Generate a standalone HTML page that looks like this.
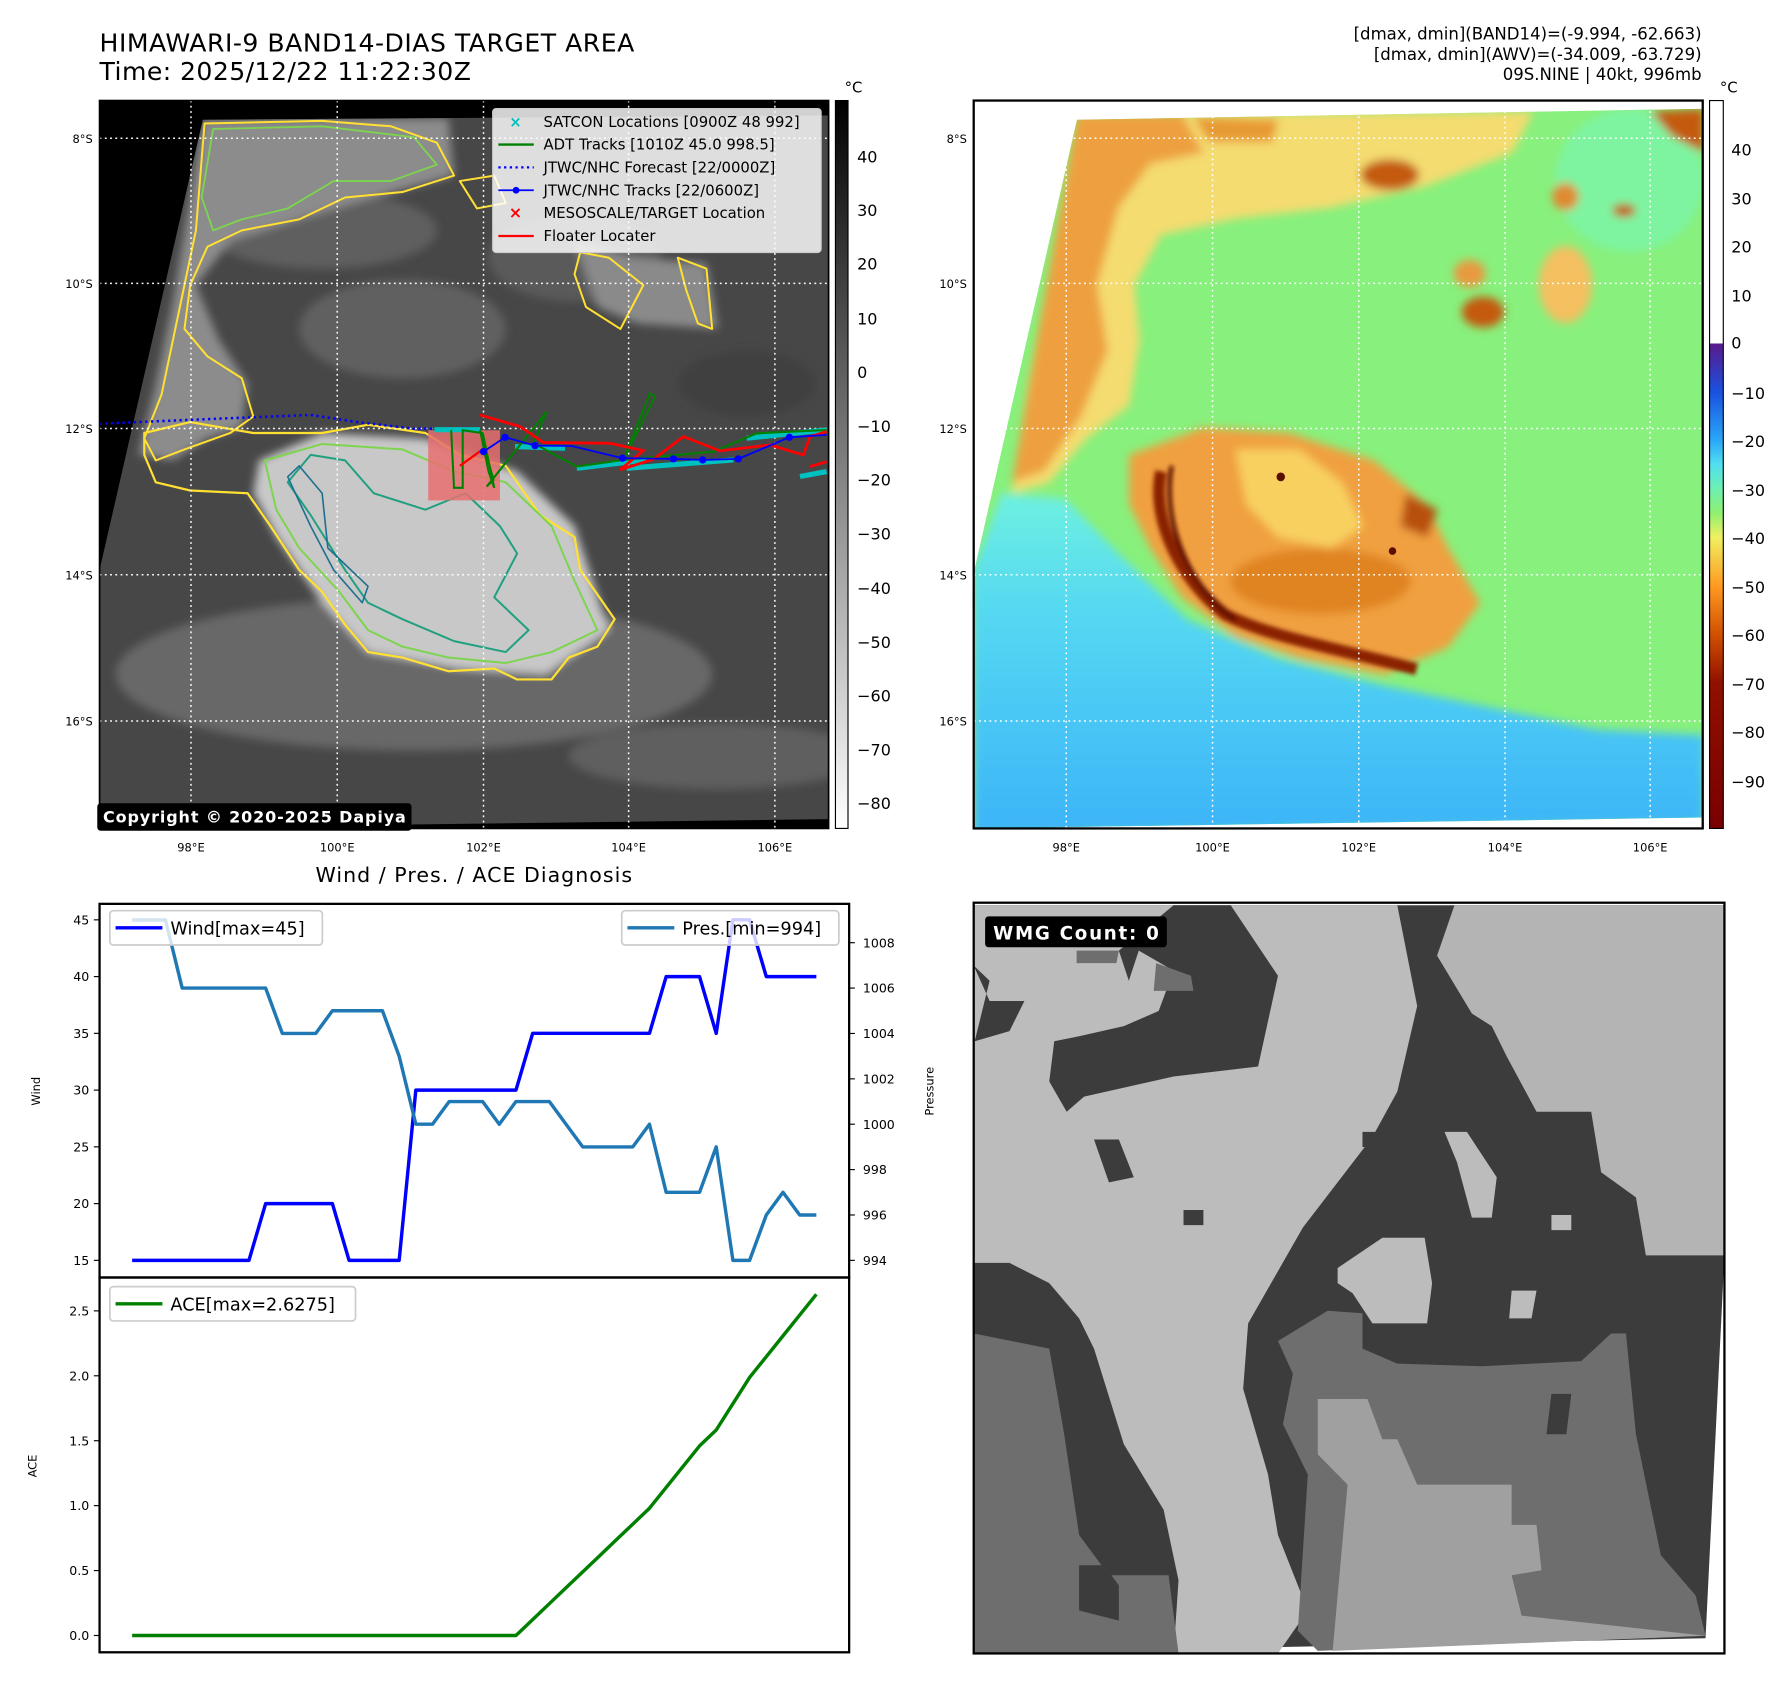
<!DOCTYPE html>
<html><head><meta charset="utf-8"><style>
html,body{margin:0;padding:0;background:#fff;}
svg{display:block;font-family:"DejaVu Sans","Liberation Sans",sans-serif;}
</style></head><body>
<svg id="root" width="1792" height="1690" viewBox="0 0 1568 1479" xmlns="http://www.w3.org/2000/svg">
<defs>
<filter id="blur6" x="-20%" y="-20%" width="140%" height="140%"><feGaussianBlur stdDeviation="8"/></filter>
<filter id="blur3" x="-20%" y="-20%" width="140%" height="140%"><feGaussianBlur stdDeviation="4"/></filter>
<linearGradient id="cbGray" x1="0" y1="0" x2="0" y2="1"><stop offset="0" stop-color="#000"/><stop offset="1" stop-color="#fff"/></linearGradient>
<linearGradient id="cbColor" x1="0" y1="0" x2="0" y2="1">
<stop offset="0" stop-color="#fff"/><stop offset="0.3336" stop-color="#fff"/>
<stop offset="0.3337" stop-color="#5a1a8a"/><stop offset="0.40" stop-color="#1a50e0"/>
<stop offset="0.467" stop-color="#2aa8f8"/><stop offset="0.50" stop-color="#50e0f0"/>
<stop offset="0.534" stop-color="#6ef0b0"/><stop offset="0.567" stop-color="#90f070"/>
<stop offset="0.60" stop-color="#f0f060"/><stop offset="0.667" stop-color="#ff9a20"/>
<stop offset="0.734" stop-color="#d05000"/><stop offset="0.80" stop-color="#901000"/>
<stop offset="1" stop-color="#780000"/></linearGradient>
<linearGradient id="seaGrad" x1="0" y1="0" x2="0" y2="1"><stop offset="0" stop-color="#6ef0e0"/><stop offset="0.35" stop-color="#55d8f2"/><stop offset="1" stop-color="#3cb4f8"/></linearGradient>
<clipPath id="clipL"><rect x="87" y="88" width="638" height="637"/></clipPath>
<clipPath id="clipR"><rect x="852" y="88" width="638" height="637"/></clipPath>
<clipPath id="clipB"><rect x="852" y="790" width="657" height="657"/></clipPath>
<clipPath id="swathL"><polygon points="352,218 1443,210 1443,1495 172,1512 172,1040"/></clipPath>
<clipPath id="swathR"><polygon points="222,220 1398,200 1398,1490 28,1510 28,1045"/></clipPath>
</defs>

<text x="87" y="45" font-size="22" textLength="468" fill="#000">HIMAWARI-9 BAND14-DIAS TARGET AREA</text>
<text x="87" y="70" font-size="22" textLength="325" fill="#000">Time: 2025/12/22 11:22:30Z</text>
<text x="1489" y="34.5" font-size="14.5" text-anchor="end" fill="#000">[dmax, dmin](BAND14)=(-9.994, -62.663)</text>
<text x="1489" y="52.5" font-size="14.5" text-anchor="end" fill="#000">[dmax, dmin](AWV)=(-34.009, -63.729)</text>
<text x="1489" y="70" font-size="14.5" text-anchor="end" fill="#000">09S.NINE | 40kt, 996mb</text>

<!-- ============ LEFT MAP ============ -->
<g clip-path="url(#clipL)">
<rect x="87" y="88" width="638" height="637" fill="#000"/>
<g transform="translate(87,88) scale(0.502,0.4793) translate(-172,-183)">
<g clip-path="url(#swathL)">
<rect x="100" y="150" width="1400" height="1400" fill="#474747"/>
<g filter="url(#blur6)">
<ellipse cx="720" cy="1230" rx="520" ry="140" fill="#686868"/>
<ellipse cx="1250" cy="1380" rx="260" ry="60" fill="#5e5e5e"/>
<ellipse cx="700" cy="600" rx="180" ry="90" fill="#606060"/>
<ellipse cx="560" cy="420" rx="200" ry="70" fill="#5e5e5e"/>
<ellipse cx="1000" cy="470" rx="150" ry="80" fill="#5a5a5a"/>
<ellipse cx="1300" cy="700" rx="120" ry="60" fill="#404040"/>
<path d="M352,218 L780,215 L790,320 L650,360 L520,400 L400,440 L340,520 L380,620 L430,700 L420,780 L360,800 L300,840 L240,830 L270,700 L300,550 Z" fill="#8c8c8c"/>
<path d="M450,840 L560,790 L740,800 L900,860 L1000,960 L1060,1150 L950,1230 L800,1220 L640,1190 L560,1100 L480,980 L440,900 Z" fill="#c8c8c8"/>
<path d="M1000,440 L1100,470 L1230,480 L1250,600 L1110,590 L1040,560 Z" fill="#8a8a8a"/>
</g>
<g fill="none" stroke-linejoin="round">
<path vector-effect="non-scaling-stroke" stroke="#ffe033" stroke-width="2.2" d="M250,790 L330,770 L440,790 L560,790 L640,775 L740,790 L800,830 L880,850 L940,940 L1000,980 L1010,1040 L1070,1130 L1040,1180 L990,1200 L960,1240 L900,1240 L860,1220 L780,1225 L700,1200 L640,1190 L600,1140 L560,1080 L520,1040 L470,960 L430,900 L330,895 L270,880 L250,830 Z"/>
<path vector-effect="non-scaling-stroke" stroke="#7dd44f" stroke-width="2" d="M460,840 L560,810 L700,820 L790,860 L880,880 L960,960 L1000,1060 L1040,1150 L960,1190 L880,1210 L780,1200 L700,1180 L640,1150 L590,1080 L520,1000 L480,930 Z"/>
<path vector-effect="non-scaling-stroke" stroke="#20a080" stroke-width="2" d="M540,830 L600,840 L650,900 L740,930 L810,900 L870,960 L900,1010 L860,1090 L920,1150 L880,1190 L790,1170 L700,1130 L640,1100 L600,1040 L540,940 L500,880 Z"/>
<path vector-effect="non-scaling-stroke" stroke="#1f6f8f" stroke-width="1.6" d="M500,870 L520,850 L560,900 L570,1000 L640,1070 L630,1100 L580,1040 L540,960 Z"/>
<path vector-effect="non-scaling-stroke" stroke="#ffe033" stroke-width="2" d="M355,225 L560,220 L680,230 L760,260 L790,320 L700,350 L600,360 L520,400 L420,420 L360,450 L330,520 L320,600 L360,650 L420,690 L440,760 L400,790 L320,820 L270,840 L250,800 L280,720 L300,620 L320,520 L340,420 Z"/>
<path vector-effect="non-scaling-stroke" stroke="#7dd44f" stroke-width="1.8" d="M370,235 L560,230 L720,250 L760,300 L680,330 L580,330 L500,380 L420,400 L370,420 L350,360 Z"/>
<path vector-effect="non-scaling-stroke" stroke="#ffe033" stroke-width="2" d="M1010,460 L1060,470 L1120,520 L1080,600 L1020,560 L1000,500 Z"/>
<path vector-effect="non-scaling-stroke" stroke="#ffe033" stroke-width="2" d="M1180,470 L1230,490 L1240,600 L1215,590 L1195,530 Z"/>
<path vector-effect="non-scaling-stroke" stroke="#ffe033" stroke-width="2" d="M800,330 L860,320 L880,370 L830,380 Z"/>
</g>
</g>
</g>
<g stroke="#fff" stroke-width="1.3" stroke-dasharray="1.6 3">
<line x1="87" x2="725" y1="121" y2="121"/><line x1="87" x2="725" y1="248" y2="248"/><line x1="87" x2="725" y1="375" y2="375"/><line x1="87" x2="725" y1="503" y2="503"/><line x1="87" x2="725" y1="631" y2="631"/>
<line x1="167" x2="167" y1="88" y2="725"/><line x1="295" x2="295" y1="88" y2="725"/><line x1="423" x2="423" y1="88" y2="725"/><line x1="550" x2="550" y1="88" y2="725"/><line x1="678" x2="678" y1="88" y2="725"/>
</g>
<rect x="374.6" y="376.5" width="62.8" height="61.4" fill="#e87070" opacity="0.85"/>
<polyline points="87,370.8 176.4,367 271.7,363.1 311.9,369.3 362.1,375.1 392.2,375.1" fill="none" stroke="#0000ff" stroke-width="2.2" stroke-dasharray="2 3"/>
<g stroke="#00c0c0" stroke-width="4.5" fill="none">
<line x1="450.6" y1="390.8" x2="494.4" y2="392.3"/><line x1="504.6" y1="409.8" x2="565.8" y2="402.5"/><line x1="548.3" y1="409.8" x2="641.7" y2="402.5"/><line x1="653.3" y1="383.5" x2="723.3" y2="376.3"/><line x1="700" y1="417" x2="723.3" y2="412.7"/><line x1="380" y1="376" x2="420" y2="376"/>
</g>
<polyline points="394.7,376.5 397.2,426.9 404.8,426.9 404.8,376.5 422.3,379 432.4,427 427.4,412.6 420,376.3 431.7,420 425.8,425.8 478.3,360.2 466.7,387.9 504.6,408.3 545.4,402.5 568.7,344.2 573.1,347.1 545.4,402.5 624.2,395.2 662.1,379.2 723.3,376.3" fill="none" stroke="#008000" stroke-width="1.8"/>
<polyline points="419.8,363.1 455,373.3 475.4,387.3 533.7,387.9 562.9,394.3 542.5,411.2 571.7,401.9 597.9,382.1 630,394.6 673.7,389.4 702.9,398.1 708.7,382.1 723.3,377.7" fill="none" stroke="#ff0000" stroke-width="2.4"/>
<line x1="402.3" y1="407.7" x2="422.3" y2="393.3" stroke="#ff0000" stroke-width="2"/>
<line x1="708.7" y1="408.3" x2="723.3" y2="404" stroke="#ff0000" stroke-width="2.4"/>
<polyline points="423,395.2 441.9,382.7 468.1,390 500.2,390.3 544.8,401 589.2,401.6 614.8,402.5 646,401.6 690.7,382.7 723.3,380.6" fill="none" stroke="#0000ff" stroke-width="1.6"/>
<g fill="#0000ff">
<circle cx="423" cy="395.2" r="3.2"/><circle cx="441.9" cy="382.7" r="3.2"/><circle cx="468.1" cy="390" r="3.2"/><circle cx="544.8" cy="401" r="3.2"/><circle cx="589.2" cy="401.6" r="3.2"/><circle cx="614.8" cy="402.5" r="3.2"/><circle cx="646" cy="401.6" r="3.2"/><circle cx="690.7" cy="382.7" r="3.2"/>
</g>
</g>
<g font-size="13">
<rect x="431" y="95" width="287.5" height="126" rx="3" fill="#fff" fill-opacity="0.82" stroke="#ccc"/>
<text x="451" y="111" font-size="13" fill="#00bfbf" text-anchor="middle" font-weight="bold">×</text>
<text x="475.5" y="111" fill="#000">SATCON Locations [0900Z 48 992]</text>
<line x1="436" x2="467" y1="126.5" y2="126.5" stroke="#008000" stroke-width="2"/>
<text x="475.5" y="131" fill="#000">ADT Tracks [1010Z 45.0 998.5]</text>
<line x1="436" x2="467" y1="146.5" y2="146.5" stroke="#0000ff" stroke-width="2" stroke-dasharray="2 3"/>
<text x="475.5" y="151" fill="#000">JTWC/NHC Forecast [22/0000Z]</text>
<line x1="436" x2="467" y1="166.5" y2="166.5" stroke="#0000ff" stroke-width="1.6"/><circle cx="451.5" cy="166.5" r="3" fill="#0000ff"/>
<text x="475.5" y="171" fill="#000">JTWC/NHC Tracks [22/0600Z]</text>
<text x="451" y="191" font-size="14" fill="#ff0000" text-anchor="middle" font-weight="bold">×</text>
<text x="475.5" y="191" fill="#000">MESOSCALE/TARGET Location</text>
<line x1="436" x2="467" y1="206.5" y2="206.5" stroke="#ff0000" stroke-width="2"/>
<text x="475.5" y="211" fill="#000">Floater Locater</text>
</g>
<rect x="87" y="88" width="638" height="637" fill="none" stroke="#000" stroke-width="1.5"/>
<rect x="85" y="703" width="275" height="24" rx="3" fill="#000"/>
<text x="90" y="720" font-size="14" font-weight="bold" fill="#fff" textLength="265">Copyright © 2020-2025 Dapiya</text>
<g font-size="10" text-anchor="end" fill="#000">
<text x="81" y="125">8°S</text><text x="81" y="252">10°S</text><text x="81" y="379">12°S</text><text x="81" y="507">14°S</text><text x="81" y="635">16°S</text>
</g>
<g font-size="10" text-anchor="middle" fill="#000">
<text x="167" y="745">98°E</text><text x="295" y="745">100°E</text><text x="423" y="745">102°E</text><text x="550" y="745">104°E</text><text x="678" y="745">106°E</text>
</g>
<g>
<rect x="731" y="88" width="11" height="637" fill="url(#cbGray)" stroke="#000" stroke-width="1"/>
<text x="739" y="81" font-size="13" fill="#000">°C</text>
<g font-size="14" fill="#000">
<text x="750" y="142">40</text><text x="750" y="189">30</text><text x="750" y="236">20</text><text x="750" y="284">10</text><text x="750" y="331">0</text><text x="750" y="378">−10</text><text x="750" y="425">−20</text><text x="750" y="472">−30</text><text x="750" y="520">−40</text><text x="750" y="567">−50</text><text x="750" y="614">−60</text><text x="750" y="661">−70</text><text x="750" y="708">−80</text>
</g></g>

<!-- ============ RIGHT MAP ============ -->
<g clip-path="url(#clipR)">
<rect x="852" y="88" width="638" height="637" fill="#fff"/>
<g transform="translate(852,88) scale(0.4657,0.4808) translate(-28,-185)">
<g clip-path="url(#swathR)">
<rect x="0" y="150" width="1450" height="1400" fill="#88f07c"/>
<g filter="url(#blur6)">
<ellipse cx="1260" cy="330" rx="140" ry="130" fill="#7ef4a0"/>
<path d="M222,210 L1080,205 L1040,280 L880,340 L700,380 L520,400 L380,430 L330,520 L340,620 L320,740 L240,800 L170,880 L100,900 L130,700 L180,450 Z" fill="#f4dc70"/>
<path d="M222,210 L420,210 L460,280 L360,300 L300,380 L260,520 L280,640 L230,760 L160,860 L100,880 L150,600 Z" fill="#eea040"/>
<path d="M440,215 L600,220 L590,260 L470,260 Z" fill="#e89a30"/>
<ellipse cx="810" cy="320" rx="55" ry="28" fill="#c45a10"/>
<ellipse cx="985" cy="570" rx="40" ry="28" fill="#c45a10"/>
<ellipse cx="960" cy="500" rx="30" ry="25" fill="#e89a40"/>
<ellipse cx="1140" cy="520" rx="50" ry="70" fill="#f4c060"/>
<ellipse cx="1140" cy="360" rx="25" ry="25" fill="#e08a30"/>
<ellipse cx="1250" cy="385" rx="22" ry="12" fill="#c45a10"/>
<path d="M1300,205 L1400,200 L1400,280 L1340,250 Z" fill="#c45a10"/>
<path d="M28,1040 L80,900 L200,910 L300,1010 L430,1130 L600,1200 L800,1250 L1000,1290 L1200,1330 L1400,1340 L1400,1500 L28,1520 Z" fill="url(#seaGrad)"/>
<path d="M320,830 L460,780 L620,790 L780,840 L880,920 L920,1000 L980,1100 L920,1180 L800,1230 L640,1200 L520,1160 L420,1090 L360,1000 L320,920 Z" fill="#f0a040"/>
<path d="M520,820 L640,820 L720,880 L760,960 L700,1000 L600,980 L540,920 Z" fill="#f8d060"/>
<ellipse cx="680" cy="1060" rx="170" ry="60" fill="#e08420"/>
<path d="M840,900 L900,930 L880,980 L830,960 Z" fill="#b85010"/>
</g>
<g filter="url(#blur3)" fill="none">
<path d="M380,860 C360,950 420,1060 500,1120 C580,1160 700,1180 860,1220" stroke="#8a2200" stroke-width="22"/>
<path d="M400,850 C380,960 440,1080 520,1130" stroke="#5a0e00" stroke-width="8"/>
</g>
<circle cx="605" cy="870" r="8" fill="#5a0e00"/>
<circle cx="815" cy="1005" r="7" fill="#5a0e00"/>
</g>
</g>
<g stroke="#fff" stroke-width="1.3" stroke-dasharray="1.6 3">
<line x1="852" x2="1490" y1="121" y2="121"/><line x1="852" x2="1490" y1="248" y2="248"/><line x1="852" x2="1490" y1="375" y2="375"/><line x1="852" x2="1490" y1="503" y2="503"/><line x1="852" x2="1490" y1="631" y2="631"/>
<line x1="933" x2="933" y1="88" y2="725"/><line x1="1061" x2="1061" y1="88" y2="725"/><line x1="1189" x2="1189" y1="88" y2="725"/><line x1="1317" x2="1317" y1="88" y2="725"/><line x1="1444" x2="1444" y1="88" y2="725"/>
</g>
</g>
<rect x="852" y="88" width="638" height="637" fill="none" stroke="#000" stroke-width="2"/>
<g font-size="10" text-anchor="end" fill="#000">
<text x="846" y="125">8°S</text><text x="846" y="252">10°S</text><text x="846" y="379">12°S</text><text x="846" y="507">14°S</text><text x="846" y="635">16°S</text>
</g>
<g font-size="10" text-anchor="middle" fill="#000">
<text x="933" y="745">98°E</text><text x="1061" y="745">100°E</text><text x="1189" y="745">102°E</text><text x="1317" y="745">104°E</text><text x="1444" y="745">106°E</text>
</g>
<g>
<rect x="1496" y="88" width="12" height="637" fill="url(#cbColor)" stroke="#000" stroke-width="1"/>
<text x="1505" y="81" font-size="13" fill="#000">°C</text>
<g font-size="14" fill="#000">
<text x="1515" y="136">40</text><text x="1515" y="179">30</text><text x="1515" y="221">20</text><text x="1515" y="264">10</text><text x="1515" y="305">0</text><text x="1515" y="349">−10</text><text x="1515" y="391">−20</text><text x="1515" y="434">−30</text><text x="1515" y="476">−40</text><text x="1515" y="519">−50</text><text x="1515" y="561">−60</text><text x="1515" y="604">−70</text><text x="1515" y="646">−80</text><text x="1515" y="689">−90</text>
</g></g>

<!-- ============ BOTTOM RIGHT (WMG) ============ -->
<g clip-path="url(#clipB)">
<rect x="852" y="790" width="657" height="657" fill="#fff"/>
<g transform="translate(852,790) scale(0.4351,0.4409) translate(-28,-45)">
<polygon points="28,50 1538,50 1538,745 1500,1505 28,1535" fill="#3c3c3c"/>
<polygon points="28,50 880,50 920,250 880,420 830,510 690,690 580,880 570,1010 620,1180 640,1300 700,1450 640,1535 430,1535 440,1390 410,1250 330,1120 270,930 240,870 180,800 100,760 28,760" fill="#bcbcbc"/>
<polygon points="430,50 545,50 640,190 600,370 430,390 250,430 215,460 180,400 190,320 240,310 330,290 400,260 430,180 360,140 340,200 320,140" fill="#3c3c3c"/>
<polygon points="28,170 60,200 30,320 100,300 130,240 60,240" fill="#3c3c3c"/>
<polygon points="270,515 320,515 350,590 300,600" fill="#3c3c3c"/>
<polygon points="450,655 490,655 490,685 450,685" fill="#3c3c3c"/>
<polygon points="810,500 860,500 860,530 810,530" fill="#3c3c3c"/>
<polygon points="995,50 1538,50 1538,745 1380,745 1360,630 1290,580 1270,460 1160,460 1100,350 1070,290 1030,265 960,150" fill="#b4b4b4"/>
<polygon points="760,770 850,710 935,710 950,800 940,880 830,880 790,820 760,800" fill="#bcbcbc"/>
<polygon points="975,500 1020,500 1080,590 1070,670 1030,670 1000,560" fill="#bcbcbc"/>
<polygon points="1190,665 1230,665 1230,695 1190,695" fill="#bcbcbc"/>
<polygon points="1110,815 1160,815 1150,870 1105,870" fill="#bcbcbc"/>
<polygon points="28,900 180,930 210,1100 240,1300 300,1380 420,1380 440,1535 28,1535" fill="#6e6e6e"/>
<polygon points="240,1360 290,1360 320,1400 320,1470 240,1450" fill="#3c3c3c"/>
<polygon points="640,915 740,855 810,860 810,930 880,960 1050,965 1250,955 1310,900 1340,900 1360,1100 1410,1340 1480,1420 1500,1500 720,1530 680,1490 700,1180 650,1080 670,980" fill="#6e6e6e"/>
<polygon points="720,1030 820,1030 850,1110 880,1110 920,1200 1110,1200 1110,1280 1160,1280 1170,1370 1110,1380 1130,1460 1500,1500 750,1530 780,1200 720,1140" fill="#a0a0a0"/>
<polygon points="1190,1020 1230,1020 1220,1100 1180,1100" fill="#3c3c3c"/>
<polygon points="235,140 320,140 315,165 235,165" fill="#6e6e6e"/>
<polygon points="395,165 465,190 470,220 390,220" fill="#6e6e6e"/>
</g>
</g>
<rect x="852" y="790" width="657" height="657" fill="none" stroke="#000" stroke-width="2"/>
<rect x="862" y="802" width="159" height="27" rx="3" fill="#000"/>
<text x="869" y="822" font-size="16" font-weight="bold" fill="#fff" textLength="145">WMG Count: 0</text>

<!-- ============ BOTTOM LEFT CHART ============ -->
<text x="414.5" y="772" font-size="18" text-anchor="middle" textLength="277" fill="#000">Wind / Pres. / ACE Diagnosis</text>
<g id="chart"></g>
</svg>
<script>
const steps = [0,1,2,3,4,5,6,7,8,9,10,11,12,13,14,15,16,17,18,19,20,21,22,23,24,25,26,27,28,29,30,31,32,33,34,35,36,37,38,39,40,41];
const wind = [15,15,15,15,15,15,15,15,20,20,20,20,20,15,15,15,15,30,30,30,30,30,30,30,35,35,35,35,35,35,35,35,40,40,40,35,45,45,40,40,40,40];
const pres = [1009,1009,1009,1006,1006,1006,1006,1006,1006,1004,1004,1004,1005,1005,1005,1005,1003,1000,1000,1001,1001,1001,1000,1001,1001,1001,1000,999,999,999,999,1000,997,997,997,999,994,994,996,997,996,996];
const ace = [0,0,0,0,0,0,0,0,0,0,0,0,0,0,0,0,0,0,0,0,0,0,0,0,0.1225,0.245,0.3675,0.49,0.6125,0.735,0.8575,0.98,1.14,1.3,1.46,1.5825,1.785,1.9875,2.1475,2.3075,2.4675,2.6275];
const windTicks = [15,20,25,30,35,40,45];
const presTicks = [994,996,998,1000,1002,1004,1006,1008];
const aceTicks = [0,0.5,1,1.5,2,2.5];
const aceTickLabels = ["0.0","0.5","1.0","1.5","2.0","2.5"];

const NS = "http://www.w3.org/2000/svg";
const g = document.getElementById('chart');
const X0 = 115.5, X1 = 714.3;
const xS = i => X0 + (i - steps[0]) * (X1 - X0) / (steps[steps.length-1] - steps[0]);
const yW = v => 1103 - (v - 15) * (298 / 30);
const yP = p => 1103 - (p - 994) * (278 / 14);
const yA = a => 1431.3 - a * (284.1 / 2.5);
function mk(tag, attrs, parent) {
  const e = document.createElementNS(NS, tag);
  for (const k in attrs) e.setAttribute(k, attrs[k]);
  (parent || g).appendChild(e);
  return e;
}
const upper = mk('rect', {x:87, y:791, width:656, height:327, fill:'none', stroke:'#000', 'stroke-width':2});


const lower = mk('rect', {x:87, y:1118, width:656, height:328, fill:'none', stroke:'#000', 'stroke-width':2});


windTicks.forEach(v => {
  const y = yW(v);
  const t = mk('line', {x1:82, x2:87, y1:y, y2:y, stroke:'#000', 'stroke-width':1});
  
  
  const l = mk('text', {x:78, y:y+4, 'font-size':11, 'text-anchor':'end', fill:'#000'});
  
  
  l.textContent = v;
});
presTicks.forEach(v => {
  const y = yP(v);
  const t = mk('line', {x1:743, x2:748, y1:y, y2:y, stroke:'#000', 'stroke-width':1});
  
  
  const l = mk('text', {x:755, y:y+4, 'font-size':11, fill:'#000'});
  
  
  l.textContent = v;
});
aceTicks.forEach((v, i) => {
  const y = yA(v);
  const t = mk('line', {x1:82, x2:87, y1:y, y2:y, stroke:'#000', 'stroke-width':1});
  
  
  const l = mk('text', {x:78, y:y+4, 'font-size':11, 'text-anchor':'end', fill:'#000'});
  
  
  l.textContent = aceTickLabels[i];
});
const wt = mk('text', {x:0, y:0, 'font-size':10, 'text-anchor':'middle', fill:'#000', transform:'translate(35,955) rotate(-90)'});


wt.textContent = 'Wind';
const pt = mk('text', {x:0, y:0, 'font-size':10, 'text-anchor':'middle', fill:'#000', transform:'translate(817,955) rotate(-90)'});


pt.textContent = 'Pressure';
const at = mk('text', {x:0, y:0, 'font-size':10, 'text-anchor':'middle', fill:'#000', transform:'translate(32,1283) rotate(-90)'});


at.textContent = 'ACE';
function pts(arr, yf) { return arr.map((v, i) => xS(steps[i]).toFixed(2) + ',' + yf(v).toFixed(2)).join(' '); }
const wl = mk('polyline', {points: pts(wind, yW), fill:'none', stroke:'#0000ff', 'stroke-width':3, 'stroke-linejoin':'round'});


const pl = mk('polyline', {points: pts(pres, yP), fill:'none', stroke:'#1f77b4', 'stroke-width':3, 'stroke-linejoin':'round'});


const al = mk('polyline', {points: pts(ace, yA), fill:'none', stroke:'#008000', 'stroke-width':3, 'stroke-linejoin':'round'});


function legend(name, x, y, w, color, label) {
  const lg = mk('g', {});
  
  
  mk('rect', {x:x, y:y, width:w, height:30, rx:3, fill:'#fff', 'fill-opacity':0.8, stroke:'#ccc', 'stroke-width':1.5}, lg);
  mk('line', {x1:x+5, x2:x+46, y1:y+15, y2:y+15, stroke:color, 'stroke-width':3}, lg);
  const t = mk('text', {x:x+53, y:y+21, 'font-size':15.5, fill:'#000'}, lg);
  t.textContent = label;
}
legend('wind-legend', 96, 797, 186, '#0000ff', 'Wind[max=' + Math.max(...wind) + ']');
legend('pressure-legend', 544, 797, 190, '#1f77b4', 'Pres.[min=' + Math.min(...pres) + ']');
legend('ace-legend', 96, 1126, 215, '#008000', 'ACE[max=' + Math.max(...ace) + ']');
</script>
</body></html>
